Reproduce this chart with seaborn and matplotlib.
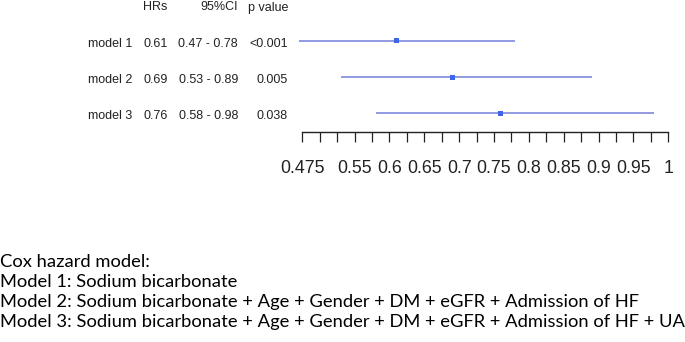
import matplotlib
matplotlib.use("Agg")
import matplotlib.pyplot as plt
import matplotlib.transforms as mtrans
import seaborn as sns
import numpy as np
import pandas as pd

models = ["model 1", "model 2", "model 3"]
hr = [0.61, 0.69, 0.76]
ci_low = [0.47, 0.53, 0.58]
ci_high = [0.78, 0.89, 0.98]
hr_text = ["0.61", "0.69", "0.76"]
ci_text = ["0.47 - 0.78", "0.53 - 0.89", "0.58 - 0.98"]
p_text = ["<0.001", "0.005", "0.038"]
headers = ["HRs", "95%CI", "p value"]
major_ticks = [0.475, 0.55, 0.6, 0.65, 0.7, 0.75, 0.8, 0.85, 0.9, 0.95, 1.0]
major_labels = ["0.475", "0.55", "0.6", "0.65", "0.7", "0.75", "0.8", "0.85", "0.9", "0.95", "1"]
minor_ticks = [0.475 + 0.025 * i for i in range(22)]
footnote = [
    "Cox hazard model:",
    "Model 1: Sodium bicarbonate",
    "Model 2: Sodium bicarbonate + Age + Gender + DM + eGFR + Admission of HF",
    "Model 3: Sodium bicarbonate + Age + Gender + DM + eGFR + Admission of HF + UA",
]

sns.set_theme(style="white")
plt.rcParams["font.family"] = ["Liberation Sans", "DejaVu Sans"]

W, H = 685, 342
fig = plt.figure(figsize=(W / 100, H / 100), dpi=100)
x0, x1 = 302.3, 668.3
ybot, ytop = 131.7, 23.0
ax = fig.add_axes([x0 / W, 1 - ybot / H, (x1 - x0) / W, (ybot - ytop) / H])

df = pd.DataFrame({"model": models, "hr": hr, "lo": ci_low, "hi": ci_high,
                   "row": np.arange(len(models))})

ax.hlines(df["row"], df["lo"], df["hi"], color="#737dda", lw=1.1, clip_on=False)
sns.scatterplot(data=df, x="hr", y="row", marker="s", s=13, color="#3f66e8",
                edgecolor="none", ax=ax, zorder=3, clip_on=False)

ax.set_xlim(0.475, 1.0)
ax.set_ylim(2.508, -0.497)
for s in ["top", "left", "right"]:
    ax.spines[s].set_visible(False)
ax.spines["bottom"].set_color("#222222")
ax.spines["bottom"].set_linewidth(1.0)
ax.set_yticks([])
ax.set_xticks(major_ticks)
ax.set_xticklabels(major_labels, fontsize=12.8, color="#222222")
ax.set_xticks(minor_ticks, minor=True)
ax.tick_params(axis="x", which="both", direction="out", length=7.5, width=0.9,
               color="#222222", bottom=True, pad=13)
ax.set_xlabel("")
ax.set_ylabel("")

def ax_x(px):
    return (px - x0) / (x1 - x0)

tr = mtrans.blended_transform_factory(ax.transAxes, ax.transData)
tfs = 9.0
tc = "#222222"
for i in range(len(models)):
    ax.text(ax_x(132), i + 0.07, models[i], ha="right", va="center", fontsize=tfs, color=tc, transform=tr)
    ax.text(ax_x(143), i + 0.07, hr_text[i], ha="left", va="center", fontsize=tfs, color=tc, transform=tr)
    ax.text(ax_x(238), i + 0.07, ci_text[i], ha="right", va="center", fontsize=tfs, color=tc, transform=tr)
    ax.text(ax_x(288), i + 0.07, p_text[i], ha="right", va="center", fontsize=tfs, color=tc, transform=tr)

hy = 1 - 7.5 / H
fig.text(155 / W, hy, headers[0], ha="center", va="center", fontsize=tfs, color=tc)
fig.text(238 / W, hy, headers[1], ha="right", va="center", fontsize=tfs, color=tc)
fig.text(288 / W, hy, headers[2], ha="right", va="center", fontsize=tfs, color=tc)

for k, line in enumerate(footnote):
    fig.text(0.5 / W, 1 - (262 + 20 * k) / H, line, ha="left", va="center",
             fontsize=13.2, color="black", family=["Lato", "DejaVu Sans"])

fig.savefig("out.png", dpi=100, facecolor="white")
